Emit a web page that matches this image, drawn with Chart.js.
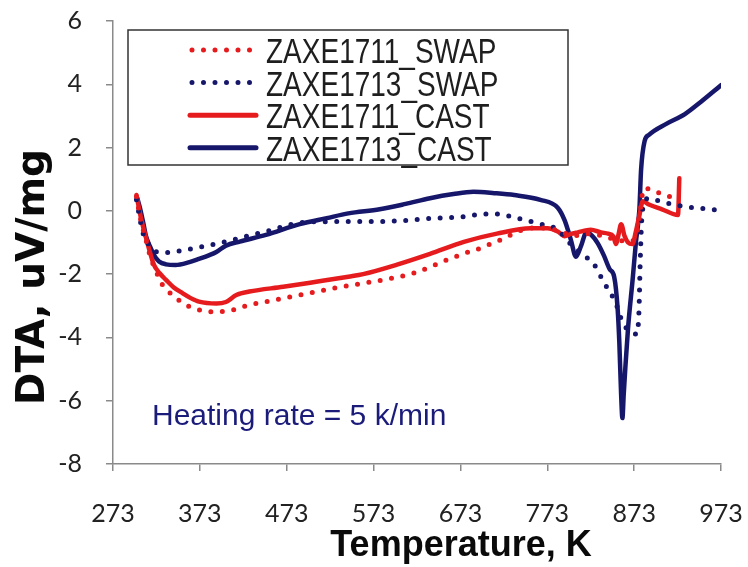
<!DOCTYPE html>
<html>
<head>
<meta charset="utf-8">
<title>DTA curves</title>
<script src="https://cdn.jsdelivr.net/npm/chart.js@4.4.1/dist/chart.umd.min.js"></script>
<style>
  body { margin: 0; background: #fff; }
  #dtaChart { display: block; }
</style>
</head>
<body>
<canvas id="dtaChart" width="748" height="567"></canvas>
<script>
// Temperature (K) and DTA signal (uV/mg) for each run
let swap1711T = [300, 305, 311, 316, 322, 330, 341.6, 350, 361, 372, 384, 398, 411, 430, 449.5, 488, 526, 561, 590, 619, 640, 657.5, 677, 696, 710, 723, 742, 760, 775, 790, 805, 820, 835, 850, 862, 870, 876, 880, 884, 893, 903, 914];
let swap1711DTA = [0.45, -0.3, -0.92, -1.45, -1.87, -2.34, -2.66, -2.85, -3.03, -3.13, -3.19, -3.18, -3.13, -2.97, -2.87, -2.66, -2.45, -2.29, -2.15, -1.97, -1.75, -1.55, -1.35, -1.18, -1.02, -0.87, -0.62, -0.54, -0.55, -0.68, -0.78, -0.72, -0.78, -0.9, -0.95, -0.95, -0.7, 0.0, 0.7, 0.68, 0.55, 0.45];

let swap1713T = [300, 303, 306.6, 310, 314.6, 320, 328, 345, 357, 372, 392, 411, 430, 449.5, 488, 526, 561, 600, 638, 677, 700, 715, 738, 761, 785, 800, 815, 827, 839, 846, 853, 860, 866, 871, 876, 878.5, 880, 881.5, 884, 890, 904, 931, 968];
let swap1713DTA = [0.35, -0.1, -0.6, -0.9, -1.08, -1.25, -1.32, -1.29, -1.23, -1.15, -1.04, -0.92, -0.78, -0.65, -0.38, -0.34, -0.34, -0.32, -0.24, -0.18, -0.1, -0.1, -0.23, -0.39, -0.6, -1.05, -1.4, -1.7, -2.3, -2.6, -3.0, -3.55, -3.75, -3.85, -3.9, -3.2, -1.6, -0.4, 0.2, 0.4, 0.29, 0.14, 0.03];

let cast1711T = [300, 305, 311, 316, 320, 327, 334, 343, 353, 362, 372, 392, 403, 415, 430, 469, 507, 544, 561, 600, 638, 677, 715, 754, 773, 785, 793, 800, 808, 823, 835, 843, 849, 852, 855, 858, 862, 866, 871, 875, 879, 883, 890, 905, 923.5, 925];
let cast1711DTA = [0.5, -0.2, -0.85, -1.35, -1.7, -1.98, -2.18, -2.42, -2.6, -2.75, -2.87, -2.93, -2.88, -2.66, -2.55, -2.4, -2.24, -2.08, -2.0, -1.7, -1.36, -0.98, -0.72, -0.55, -0.55, -0.65, -0.8, -0.73, -0.68, -0.6, -0.68, -0.72, -0.8, -1.05, -0.75, -0.42, -0.8, -1.0, -1.05, -0.65, -0.15, 0.3, 0.2, 0.05, -0.13, 1.03];

let cast1713T = [301, 304, 308, 311, 316, 320, 326, 334, 345, 361, 372, 384, 392, 403, 419, 449, 488, 519, 544, 580, 610, 638, 665, 688, 712, 735, 765, 785, 793, 800, 806, 812, 818, 825, 831, 838, 845, 850, 854, 856, 858, 859.5, 861, 863, 866, 871.5, 875, 879, 881, 885, 890, 910, 931, 950, 973];
let cast1713DTA = [0.4, 0.1, -0.4, -0.8, -1.15, -1.39, -1.6, -1.69, -1.71, -1.62, -1.52, -1.4, -1.3, -1.1, -0.97, -0.76, -0.42, -0.23, -0.08, 0.05, 0.22, 0.4, 0.53, 0.6, 0.56, 0.5, 0.35, 0.1, -0.3, -0.9, -1.45, -1.1, -0.68, -0.8, -1.02, -1.4, -1.85, -2.08, -3.1, -4.2, -5.8, -6.55, -5.8, -4.9, -3.7, -2.1, -1.0, 0.03, 1.3, 2.2, 2.4, 2.75, 3.05, 3.45, 3.97];

let seriesNames = ['ZAXE1711_SWAP', 'ZAXE1713_SWAP', 'ZAXE1711_CAST', 'ZAXE1713_CAST'];
let tempTicks = [273, 373, 473, 573, 673, 773, 873, 973];
let dtaTicks = [-8, -6, -4, -2, 0, 2, 4, 6];

let xTitle = 'Temperature, K';
let yTitle = 'DTA, uV/mg';
let noteText = 'Heating rate = 5 k/min';

let red = '#e61b1e';
let navy = '#16176b';
let axisGrey = '#8a8a8a';

// zip temperature and signal arrays into {x, y} points
let toPoints = (ts, vs) => ts.map((t, i) => ({ x: t, y: vs[i] }));

let dotted = (label, color, ts, vs) => ({
  label: label,
  data: toPoints(ts, vs),
  borderColor: color,
  borderWidth: 5,
  borderDash: [0, 11.5],
  borderCapStyle: 'round',
  pointRadius: 0,
  cubicInterpolationMode: 'monotone',
  fill: false
});

let solid = (label, color, ts, vs) => ({
  label: label,
  data: toPoints(ts, vs),
  borderColor: color,
  borderWidth: 4.5,
  borderCapStyle: 'round',
  borderJoinStyle: 'round',
  pointRadius: 0,
  cubicInterpolationMode: 'monotone',
  fill: false
});

// Legend box, axis titles and the heating-rate note
let overlay = {
  id: 'overlay',
  afterDraw: (chart) => {
    let ctx = chart.ctx;
    let area = chart.chartArea;
    ctx.save();

    // legend frame
    ctx.strokeStyle = '#333';
    ctx.lineWidth = 1.5;
    ctx.strokeRect(128, 30, 440, 135);

    chart.data.datasets.forEach((ds, i) => {
      let y = 50 + i * 32.6;
      ctx.strokeStyle = ds.borderColor;
      ctx.lineWidth = 5;
      ctx.lineCap = 'round';
      if (ds.borderDash) {
        ctx.setLineDash(ds.borderDash);
        ctx.beginPath();
        ctx.moveTo(192, y);
        ctx.lineTo(252, y);
        ctx.stroke();
        ctx.setLineDash([]);
      } else {
        ctx.beginPath();
        ctx.moveTo(190, y);
        ctx.lineTo(256, y);
        ctx.stroke();
      }
      // narrow lettering
      ctx.save();
      ctx.translate(266, y + 13);
      ctx.scale(0.8, 1);
      ctx.fillStyle = '#1e1e1e';
      ctx.font = '35px "Liberation Sans", Arial, sans-serif';
      ctx.textAlign = 'left';
      ctx.textBaseline = 'alphabetic';
      ctx.fillText(ds.label, 0, 0);
      ctx.restore();
    });

    // axis titles
    ctx.fillStyle = '#0a0a0a';
    ctx.textBaseline = 'alphabetic';
    ctx.textAlign = 'center';
    ctx.font = 'bold 36px "Liberation Sans", Arial, sans-serif';
    ctx.fillText(xTitle, 461, 556);

    ctx.save();
    ctx.translate(44, 277);
    ctx.rotate(-Math.PI / 2);
    ctx.font = 'bold 39px "DejaVu Sans", sans-serif';
    ctx.fillText(yTitle, 0, 0);
    ctx.restore();

    // note inside the plot
    ctx.fillStyle = '#1b1c7a';
    ctx.textAlign = 'left';
    ctx.font = '30px "Liberation Sans", Arial, sans-serif';
    ctx.fillText(noteText, area.left + 39, 425);

    ctx.restore();
  }
};

let tickFont = { family: 'Lato, "Open Sans", sans-serif', size: 25 };

let drawChart = () => {
  new Chart(document.getElementById('dtaChart'), {
    type: 'line',
    data: {
      datasets: [
        dotted(seriesNames[0], red, swap1711T, swap1711DTA),
        dotted(seriesNames[1], navy, swap1713T, swap1713DTA),
        solid(seriesNames[2], red, cast1711T, cast1711DTA),
        solid(seriesNames[3], navy, cast1713T, cast1713DTA)
      ]
    },
    options: {
      responsive: false,
      animation: false,
      devicePixelRatio: 1,
      layout: { padding: { top: 21, right: 27, left: 0, bottom: 0 } },
      plugins: {
        legend: { display: false },
        tooltip: { enabled: false }
      },
      scales: {
        x: {
          type: 'linear',
          min: 273,
          max: 973,
          afterBuildTicks: (scale) => { scale.ticks = tempTicks.map(v => ({ value: v })); },
          afterFit: (scale) => {
            scale.height = 103;
            scale.paddingLeft = 0;
            scale.paddingRight = 0;
          },
          grid: { drawOnChartArea: false, drawTicks: true, tickLength: 7, color: axisGrey, lineWidth: 1.5 },
          border: { display: true, color: axisGrey, width: 1.5 },
          ticks: { color: '#222', font: tickFont, padding: 28, maxRotation: 0, autoSkip: false }
        },
        y: {
          type: 'linear',
          min: -8,
          max: 6,
          afterBuildTicks: (scale) => { scale.ticks = dtaTicks.map(v => ({ value: v })); },
          afterFit: (scale) => {
            scale.width = 113;
            scale.paddingTop = 0;
            scale.paddingBottom = 0;
          },
          grid: { drawOnChartArea: false, drawTicks: true, tickLength: 7, color: axisGrey, lineWidth: 1.5 },
          border: { display: true, color: axisGrey, width: 1.5 },
          ticks: { color: '#222', font: tickFont, padding: 24 }
        }
      }
    },
    plugins: [overlay]
  });
};

// make sure the tick font is ready before the first paint
document.fonts.load('25px Lato').then(drawChart, drawChart);
</script>
</body>
</html>
